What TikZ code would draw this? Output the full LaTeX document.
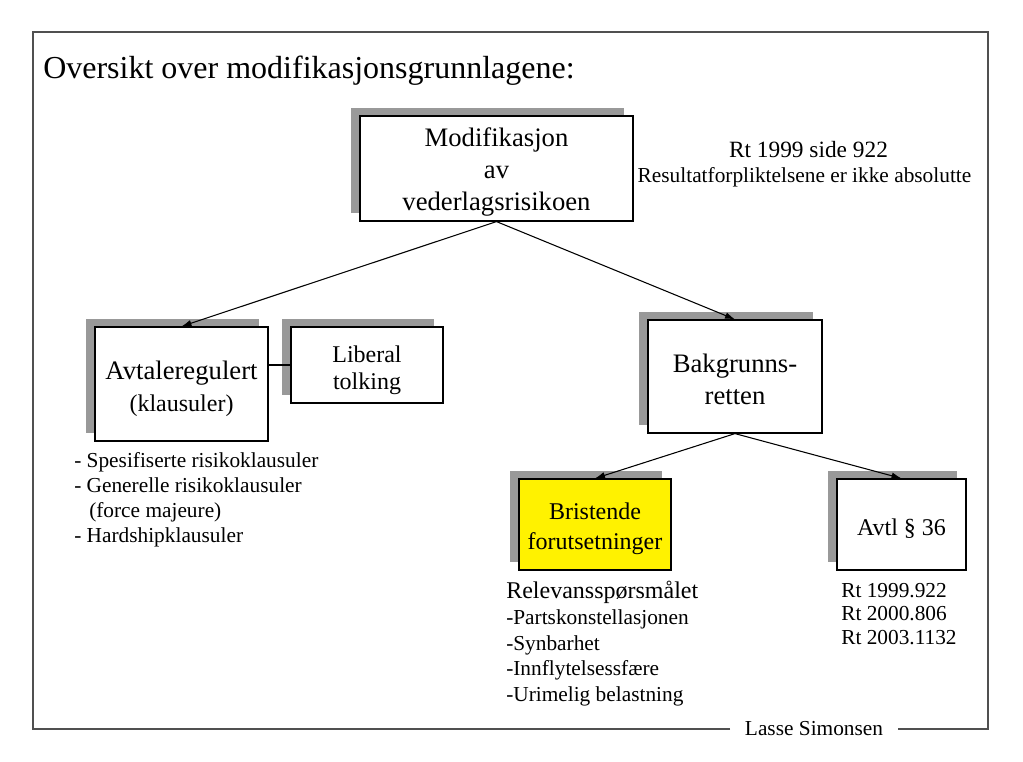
\documentclass[tikz,border=0pt]{standalone}
\usepackage{fontspec}
\setmainfont{Liberation Serif}
\usetikzlibrary{shadows,arrows.meta}
\definecolor{shadowgray}{RGB}{153,153,153}
\definecolor{framegray}{RGB}{80,80,80}
\begin{document}
\begin{tikzpicture}[x=0.75pt,y=-0.75pt,
  box/.style={draw=black,line width=0.9pt,fill=white,inner sep=0pt,
    general shadow={fill=shadowgray,shadow xshift=-6.75pt,shadow yshift=6pt}},
  btxt/.style={inner sep=0pt,align=center},
  arr/.style={line width=0.8pt,-{Latex[length=7.5pt,width=5pt]}},
  txt/.style={inner sep=0pt,anchor=base west,font=\fontsize{16}{19}\selectfont},
  ctxt/.style={inner sep=0pt,anchor=base}]
\useasboundingbox (0,0) rectangle (1023,762);
% frame
\coordinate (f1) at (730,729);
\coordinate (f2) at (33,729);
\coordinate (f3) at (33,32);
\coordinate (f4) at (988,32);
\coordinate (f5) at (988,729);
\coordinate (f6) at (898,729);
\draw[framegray,line width=0.8pt] (f1) -- (f2) -- (f3) -- (f4) -- (f5) -- (f6);
\node[ctxt,font=\fontsize{16}{19}\selectfont] (footer) at (814,735) {Lasse Simonsen};
% title
\node[txt,font=\fontsize{24}{28}\selectfont] (title) at (43,79) {Oversikt over modifikasjonsgrunnlagene:};
% boxes
\node[box,minimum width=204.75pt,minimum height=78.75pt] (top) at (496.5,168.5) {};
\node[btxt,font=\fontsize{20}{24}\selectfont] (topt) at ([yshift=-2.25pt]top.center) {Modifikasjon\\av\\vederlagsrisikoen};
\node[box,minimum width=129.75pt,minimum height=85.5pt] (avt) at (181.5,384) {};
\node[btxt,font=\fontsize{20}{24}\selectfont] (avtt) at ([yshift=-3.75pt]avt.center) {Avtaleregulert\\{\fontsize{18}{22}\selectfont (klausuler)}};
\node[box,minimum width=114pt,minimum height=57pt] (lib) at (367,365) {};
\node[btxt,font=\fontsize{18}{20.25}\selectfont] (libt) at ([yshift=-3.75pt]lib.center) {Liberal\\tolking};
\node[box,minimum width=130.5pt,minimum height=84.75pt] (bak) at (735,376.5) {};
\node[btxt,font=\fontsize{20}{24}\selectfont] (bakt) at ([yshift=-1.9pt]bak.center) {Bakgrunns-\\retten};
\node[box,fill=yellow,minimum width=114pt,minimum height=68.25pt] (bri) at (595,524.5) {};
\node[btxt,font=\fontsize{18}{22.5}\selectfont] (brit) at ([yshift=-3pt]bri.center) {Bristende\\forutsetninger};
\node[box,minimum width=96.75pt,minimum height=68.25pt] (avtl) at (901.5,524.5) {};
\node[btxt,font=\fontsize{18}{22}\selectfont] (avtlt) at ([yshift=-3pt]avtl.center) {Avtl § 36};
% connectors
\draw[arr] (top.south) -- (avt.north);
\draw[arr] (top.south) -- (bak.north);
\draw[arr] (bak.south) -- (bri.north);
\draw[arr] (bak.south) -- (avtl.north);
\draw[line width=0.8pt] (avt.east |- lib.west) -- (lib.west);
% Rt note
\node[ctxt,font=\fontsize{17.5}{21}\selectfont] (rt) at (808.5,158) {Rt 1999 side 922};
\node[ctxt,font=\fontsize{16}{19}\selectfont] (res) at (804.5,183) {Resultatforpliktelsene er ikke absolutte};
% left list
\node[txt] (l1) at (74,467.5) {- Spesifiserte risikoklausuler};
\node[txt] (l2) at (74,492.5) {- Generelle risikoklausuler};
\node[txt] (l3) at (89,517.5) {(force majeure)};
\node[txt] (l4) at (74,542.5) {- Hardshipklausuler};
% middle list
\node[txt,font=\fontsize{18}{21}\selectfont] (m0) at (506,598) {Relevansspørsmålet};
\node[txt] (m1) at (506,624) {-Partskonstellasjonen};
\node[txt] (m2) at (506,650) {-Synbarhet};
\node[txt] (m3) at (506,675.5) {-Innflytelsessfære};
\node[txt] (m4) at (506,701) {-Urimelig belastning};
% right list
\node[txt] (r1) at (841,597) {Rt 1999.922};
\node[txt] (r2) at (841,620.5) {Rt 2000.806};
\node[txt] (r3) at (841,644) {Rt 2003.1132};
\end{tikzpicture}
\end{document}
